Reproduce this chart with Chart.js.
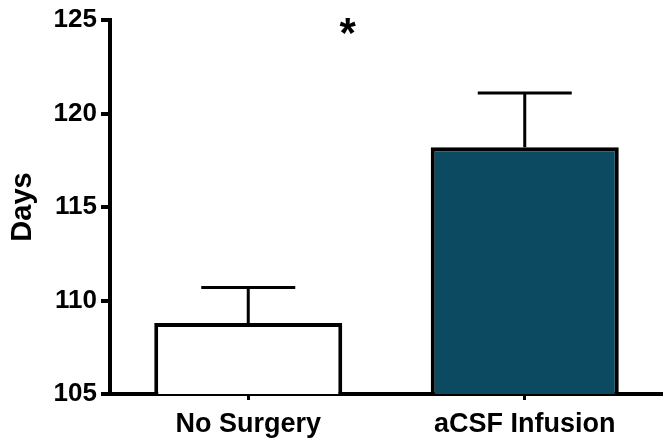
<!DOCTYPE html>
<html>
<head>
<meta charset="utf-8">
<script src="https://cdn.jsdelivr.net/npm/chart.js@4/dist/chart.umd.min.js"></script>
<style>
  html, body { margin: 0; padding: 0; background: #fff; }
  #wrap { width: 663px; height: 440px; }
</style>
</head>
<body>
<div id="wrap"><canvas id="barChart" width="663" height="440"></canvas></div>
<script>
// data
const groups = ['No Surgery', 'aCSF Infusion'];
const meanDays = [108.8, 118.2];
const semDays = [1.9, 2.9];
const yTicks = [105, 110, 115, 120, 125];
const barColors = ['#ffffff', '#0b4a60'];

const FONT = '"Liberation Sans", Arial, sans-serif';

// error bars (upper only) + significance star
const errorBars = {
    id: 'errorBars',
    afterDatasetsDraw(chart) {
        const ctx = chart.ctx;
        const x = chart.scales.x, y = chart.scales.y;
        ctx.save();
        ctx.strokeStyle = '#000';
        ctx.lineWidth = 3;
        meanDays.forEach(function (m, i) {
            const cx = x.getPixelForValue(i);
            const yTop = y.getPixelForValue(m + semDays[i]);
            const yBar = y.getPixelForValue(m);
            ctx.beginPath();
            ctx.moveTo(cx, yBar);
            ctx.lineTo(cx, yTop);
            ctx.moveTo(cx - 47, yTop);
            ctx.lineTo(cx + 47, yTop);
            ctx.stroke();
        });
        // significance marker
        ctx.fillStyle = '#000';
        ctx.font = 'bold 42px ' + FONT;
        ctx.textAlign = 'center';
        ctx.textBaseline = 'middle';
        ctx.fillText('*', x.getPixelForValue(0.36), y.getPixelForValue(124.2));
        ctx.restore();
    }
};

new Chart(document.getElementById('barChart').getContext('2d'), {
    type: 'bar',
    data: {
        labels: groups,
        datasets: [{
            data: meanDays,
            backgroundColor: barColors,
            borderColor: '#000',
            borderWidth: 4,
            borderSkipped: 'bottom',
            categoryPercentage: 1,
            barPercentage: 0.68
        }]
    },
    options: {
        responsive: false,
        animation: false,
        layout: { padding: { top: 20, right: 0, left: 0, bottom: 0 } },
        plugins: {
            legend: { display: false },
            tooltip: { enabled: false }
        },
        scales: {
            x: {
                border: { display: true, color: '#000', width: 4 },
                grid: { display: true, offset: false, drawOnChartArea: false, drawTicks: true, tickLength: 6, lineWidth: 3, color: '#000' },
                ticks: { color: '#000', font: { family: FONT, size: 27, weight: 'bold' }, padding: 8 },
                afterFit(scale) { scale.height = 46; }
            },
            y: {
                min: 105,
                max: 125,
                afterBuildTicks(scale) { scale.ticks = yTicks.map(v => ({ value: v })); },
                border: { display: true, color: '#000', width: 4 },
                grid: { display: true, drawOnChartArea: false, drawTicks: true, tickLength: 9, lineWidth: 4, color: '#000' },
                ticks: { color: '#000', font: { family: FONT, size: 26, weight: 'bold' }, padding: 4 },
                title: {
                    display: true,
                    text: 'Days',
                    color: '#000',
                    font: { family: FONT, size: 29, weight: 'bold' },
                    padding: { top: 6, bottom: 4 }
                },
                afterFit(scale) { scale.width = 110; }
            }
        }
    },
    plugins: [errorBars]
});
</script>
</body>
</html>
